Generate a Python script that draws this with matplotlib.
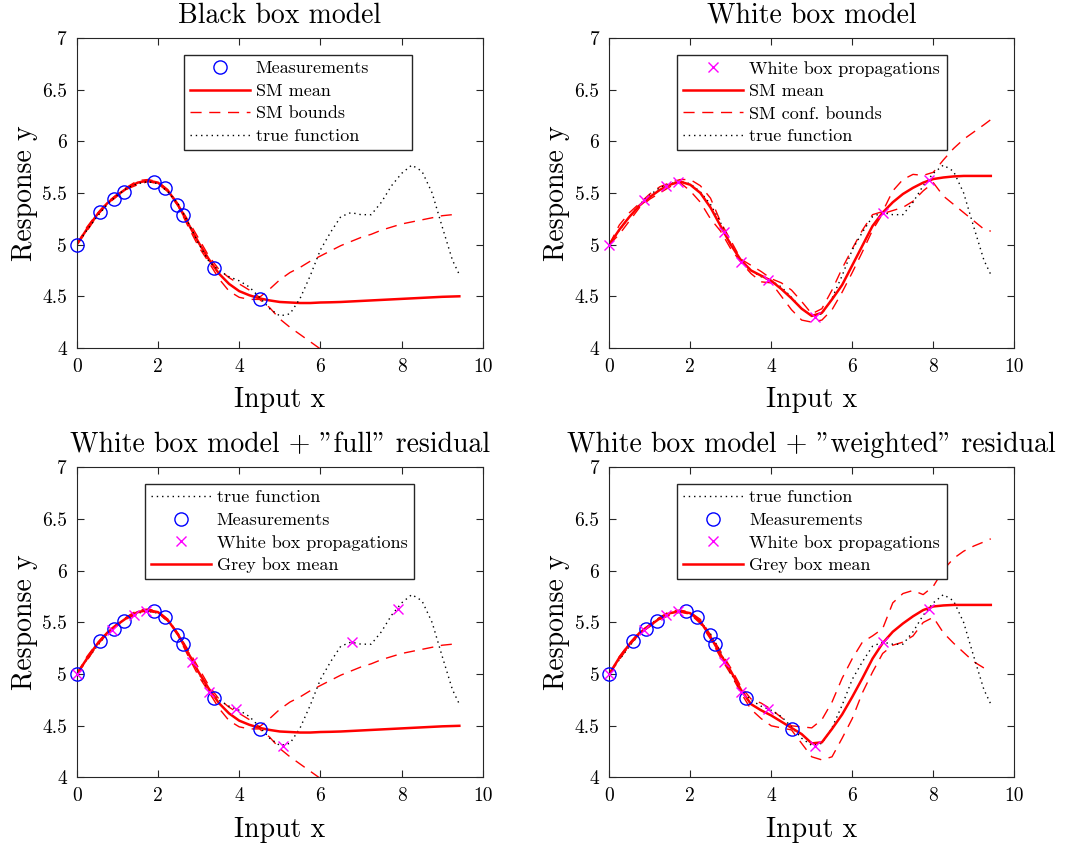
import numpy as np
from matplotlib import pyplot as plt

plt.rcParams['font.family'] = ['cmr10', 'DejaVu Serif']
plt.rcParams['mathtext.fontset'] = 'cm'
plt.rcParams['axes.formatter.use_mathtext'] = True
plt.rcParams['axes.unicode_minus'] = False

# common x grid of the curves
xg = [0, 0.25, 0.5, 0.75, 1.0, 1.25, 1.5, 1.75, 2.0, 2.25, 2.5, 2.75, 3.0, 3.25,
      3.5, 3.75, 4.0, 4.25, 4.5, 4.75, 5.0, 5.25, 5.5, 5.75, 6.0, 6.25, 6.5, 6.75,
      7.0, 7.25, 7.5, 7.75, 8.0, 8.25, 8.5, 8.75, 9.0, 9.25, 9.42]

true_y = [5.00, 5.14, 5.27, 5.39, 5.48, 5.55, 5.59, 5.61, 5.59, 5.51, 5.39, 5.21, 5.01, 4.84,
          4.75, 4.69, 4.65, 4.59, 4.49, 4.38, 4.31, 4.33, 4.48, 4.70, 4.95, 5.12, 5.27, 5.31,
          5.29, 5.29, 5.41, 5.57, 5.69, 5.77, 5.71, 5.50, 5.17, 4.85, 4.71]

# black box (surrogate model on measurements)
bb_mean = [5.00, 5.15, 5.29, 5.40, 5.48, 5.55, 5.60, 5.62, 5.60, 5.52, 5.38, 5.20, 5.02, 4.86,
           4.72, 4.62, 4.55, 4.51, 4.48, 4.46, 4.445, 4.44, 4.435, 4.435, 4.44, 4.442, 4.445, 4.45,
           4.455, 4.46, 4.465, 4.47, 4.475, 4.48, 4.485, 4.49, 4.495, 4.498, 4.50]
bb_upper = [5.00, 5.17, 5.30, 5.41, 5.49, 5.56, 5.62, 5.63, 5.61, 5.53, 5.39, 5.23, 5.06, 4.89,
            4.76, 4.68, 4.62, 4.56, 4.49, 4.57, 4.66, 4.73, 4.78, 4.84, 4.89, 4.94, 4.99, 5.03,
            5.07, 5.10, 5.14, 5.17, 5.20, 5.22, 5.24, 5.26, 5.28, 5.29, 5.30]
bb_lower = [5.00, 5.13, 5.28, 5.39, 5.47, 5.54, 5.58, 5.61, 5.59, 5.51, 5.37, 5.17, 4.98, 4.83,
            4.67, 4.55, 4.49, 4.47, 4.47, 4.39, 4.28, 4.20, 4.13, 4.06, 3.99, 3.92, 3.86, 3.80,
            3.73, 3.67, 3.61, 3.55, 3.49, 3.43, 3.37, 3.32, 3.27, 3.22, 3.19]

# white box model
wb_mean = [5.00, 5.145, 5.27, 5.38, 5.46, 5.53, 5.58, 5.61, 5.58, 5.50, 5.36, 5.18, 5.00, 4.85,
           4.75, 4.70, 4.65, 4.57, 4.48, 4.38, 4.31, 4.34, 4.47, 4.61, 4.80, 4.99, 5.18, 5.31,
           5.41, 5.49, 5.55, 5.60, 5.635, 5.65, 5.66, 5.665, 5.665, 5.665, 5.665]
wb_upper = [5.00, 5.19, 5.31, 5.40, 5.49, 5.56, 5.60, 5.63, 5.63, 5.57, 5.45, 5.22, 5.04, 4.86,
            4.80, 4.74, 4.67, 4.63, 4.56, 4.45, 4.33, 4.38, 4.56, 4.77, 4.96, 5.14, 5.29, 5.32,
            5.52, 5.63, 5.68, 5.67, 5.70, 5.82, 5.93, 6.02, 6.09, 6.16, 6.21]
wb_lower = [5.00, 5.10, 5.23, 5.36, 5.44, 5.50, 5.56, 5.60, 5.52, 5.41, 5.25, 5.13, 4.96, 4.83,
            4.72, 4.64, 4.63, 4.50, 4.37, 4.27, 4.25, 4.27, 4.37, 4.54, 4.73, 4.93, 5.14, 5.30,
            5.33, 5.36, 5.42, 5.52, 5.60, 5.47, 5.39, 5.31, 5.23, 5.15, 5.13]

# grey box with weighted residual
gw_mean = [5.00, 5.16, 5.29, 5.40, 5.47, 5.54, 5.59, 5.61, 5.59, 5.51, 5.36, 5.19, 5.03, 4.85,
           4.71, 4.65, 4.60, 4.54, 4.48, 4.42, 4.33, 4.34, 4.47, 4.61, 4.78, 4.96, 5.15, 5.30,
           5.41, 5.49, 5.56, 5.62, 5.655, 5.665, 5.67, 5.67, 5.67, 5.67, 5.67]
gw_upper = [5.00, 5.17, 5.30, 5.41, 5.48, 5.55, 5.61, 5.62, 5.60, 5.53, 5.38, 5.22, 5.06, 4.88,
            4.76, 4.72, 4.66, 4.58, 4.50, 4.49, 4.48, 4.56, 4.73, 4.96, 5.15, 5.31, 5.37, 5.44,
            5.69, 5.78, 5.81, 5.77, 5.85, 6.01, 6.12, 6.19, 6.24, 6.28, 6.31]
gw_lower = [5.00, 5.14, 5.28, 5.39, 5.46, 5.53, 5.57, 5.60, 5.58, 5.49, 5.34, 5.16, 5.00, 4.82,
            4.66, 4.57, 4.50, 4.48, 4.46, 4.33, 4.20, 4.17, 4.20, 4.38, 4.57, 4.82, 5.02, 5.20,
            5.28, 5.31, 5.37, 5.50, 5.55, 5.40, 5.30, 5.21, 5.12, 5.06, 5.03]

meas_x = [0, 0.58, 0.92, 1.17, 1.90, 2.17, 2.48, 2.62, 3.37, 4.51]
meas_y = [5.00, 5.32, 5.44, 5.51, 5.61, 5.55, 5.38, 5.29, 4.77, 4.47]

wbp_x = [0, 0.86, 1.40, 1.70, 2.84, 3.25, 3.93, 5.09, 6.77, 7.90]
wbp_y = [5.00, 5.43, 5.57, 5.61, 5.12, 4.83, 4.66, 4.30, 5.31, 5.63]

xticks = [0, 2, 4, 6, 8, 10]
yticks = [4, 4.5, 5, 5.5, 6, 6.5, 7]
yticklabels = ['4', '4.5', '5', '5.5', '6', '6.5', '7']
titles = ['Black box model', 'White box model',
          'White box model + "full" residual', 'White box model + "weighted" residual']

axcol = '#262626'
fig = plt.figure(figsize=(10.66, 8.46), dpi=100)
pos = [[0.072, 0.5887, 0.381, 0.3664], [0.5715, 0.5887, 0.380, 0.3664],
       [0.072, 0.081, 0.381, 0.3664], [0.5715, 0.081, 0.380, 0.3664]]
axs = [fig.add_axes(p) for p in pos]

def dotted(ax):
    return ax.plot(xg, true_y, color='k', lw=1.0, dashes=(1, 2.8), label='true function')[0]

def circles(ax):
    return ax.plot(meas_x, meas_y, 'o', mfc='none', mec='#0000ff', ms=9.5, mew=1.0,
                   label='Measurements', clip_on=False, zorder=4)[0]

def crosses(ax):
    return ax.plot(wbp_x, wbp_y, 'x', color='#ff00ff', ms=7, mew=1.0,
                   label='White box propagations', clip_on=False, zorder=4)[0]

def band(ax, up, lo, lab):
    h = ax.plot(xg, up, color='r', lw=1.0, dashes=(8, 5.5), label=lab)[0]
    ax.plot(xg, lo, color='r', lw=1.0, dashes=(8, 5.5))
    return h

def mean(ax, y, lab):
    return ax.plot(xg, y, '-', color='r', lw=1.8, label=lab)[0]

# legend box: x0, width (axes fraction), top
def leg(ax, handles, labels, x0, w, top):
    return ax.legend(handles, labels, loc='upper left', bbox_to_anchor=(x0, 0, w, top),
                     mode='expand', fontsize=13, frameon=True, fancybox=False,
                     edgecolor=axcol, framealpha=1, borderaxespad=0, handlelength=3.33,
                     handletextpad=0.33, labelspacing=0.38, borderpad=0.32)

# black box
ax = axs[0]
hm = circles(ax)
hs = mean(ax, bb_mean, 'SM mean')
hb = band(ax, bb_upper, bb_lower, 'SM bounds')
ht = dotted(ax)
leg(ax, [hm, hs, hb, ht], ['Measurements', 'SM mean', 'SM bounds', 'true function'],
    0.264, 0.5616, 0.945)

# white box
ax = axs[1]
hb = band(ax, wb_upper, wb_lower, 'SM conf. bounds')
ht = dotted(ax)
hs = mean(ax, wb_mean, 'SM mean')
hw = crosses(ax)
leg(ax, [hw, hs, hb, ht], ['White box propagations', 'SM mean', 'SM conf. bounds', 'true function'],
    0.168, 0.665, 0.945)

# full residual
ax = axs[2]
band(ax, bb_upper, bb_lower, None)
ht = dotted(ax)
hs = mean(ax, bb_mean, 'Grey box mean')
hm = circles(ax)
hw = crosses(ax)
leg(ax, [ht, hm, hw, hs], ['true function', 'Measurements', 'White box propagations', 'Grey box mean'],
    0.168, 0.663, 0.947)

# weighted residual
ax = axs[3]
band(ax, gw_upper, gw_lower, None)
ht = dotted(ax)
hs = mean(ax, gw_mean, 'Grey box mean')
hm = circles(ax)
hw = crosses(ax)
leg(ax, [ht, hm, hw, hs], ['true function', 'Measurements', 'White box propagations', 'Grey box mean'],
    0.168, 0.665, 0.947)

for i, ax in enumerate(axs):
    ax.set_xlim(0, 10)
    ax.set_ylim(4, 7)
    ax.set_xticks(xticks)
    ax.set_xticklabels([str(t) for t in xticks])
    ax.set_yticks(yticks)
    ax.set_yticklabels(yticklabels)
    ax.tick_params(direction='in', top=True, right=True, length=5, width=0.8,
                   labelsize=14, colors=axcol, labelcolor='k', pad=7)
    for s in ax.spines.values():
        s.set_color(axcol)
        s.set_linewidth(0.8)
    ax.set_title(titles[i], fontsize=20, pad=11)
    ax.set_xlabel('Input x', fontsize=20, labelpad=8)
    ax.set_ylabel('Response y', fontsize=20, labelpad=3)

fig.savefig('out.png', dpi=100)
